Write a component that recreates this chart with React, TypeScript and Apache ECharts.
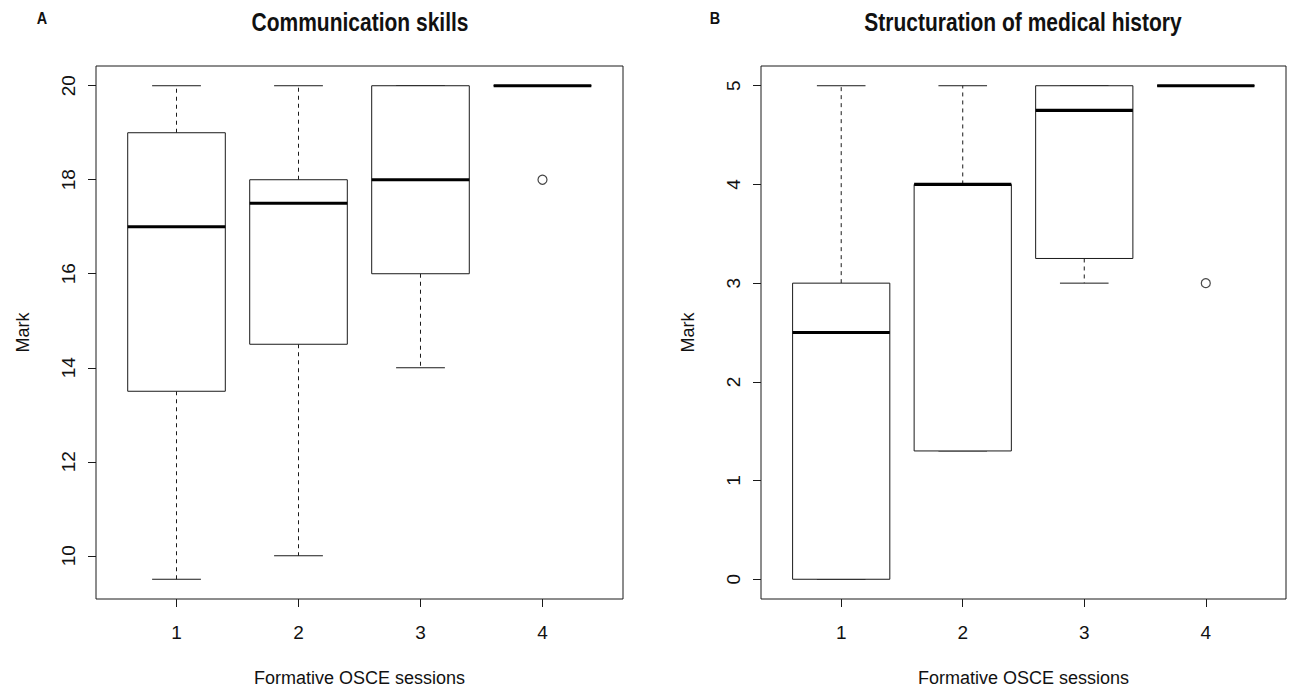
import React, { useEffect, useRef } from "react";
import * as echarts from "echarts";

const categories = [1, 2, 3, 4];
const xTicks = [1, 2, 3, 4];

// Panel A: Communication skills
const commMin = [9.5, 10, 14, 20];
const commQ1 = [13.5, 14.5, 16, 20];
const commMedian = [17, 17.5, 18, 20];
const commQ3 = [19, 18, 20, 20];
const commMax = [20, 20, 20, 20];
const commOutliers = [[4, 18]];
const commTicks = [10, 12, 14, 16, 18, 20];

// Panel B: Structuration of medical history
const histMin = [0, 1.3, 3, 5];
const histQ1 = [0, 1.3, 3.25, 5];
const histMedian = [2.5, 4, 4.75, 5];
const histQ3 = [3, 4, 5, 5];
const histMax = [5, 5, 5, 5];
const histOutliers = [[4, 3]];
const histTicks = [0, 1, 2, 3, 4, 5];

const FONT = '"Liberation Sans", Arial, Helvetica, sans-serif';
const LINE = "#1a1a1a";
const TEXT = "#111";

function buildBoxData(mins: number[], q1: number[], med: number[], q3: number[], maxs: number[]) {
  return categories.map((c, i) => [c, mins[i], q1[i], med[i], q3[i], maxs[i]]);
}

function renderBox(params: any, api: any) {
  const x = api.value(0);
  const vMin = api.value(1);
  const vQ1 = api.value(2);
  const vMed = api.value(3);
  const vQ3 = api.value(4);
  const vMax = api.value(5);
  const pMin = api.coord([x, vMin]);
  const pQ1 = api.coord([x, vQ1]);
  const pMed = api.coord([x, vMed]);
  const pQ3 = api.coord([x, vQ3]);
  const pMax = api.coord([x, vMax]);
  const cx = pMed[0];
  const halfBox = api.size([0.4, 0])[0];
  const halfCap = api.size([0.2, 0])[0];
  const children: any[] = [];
  const dashStyle = { stroke: LINE, lineWidth: 1, lineDash: [4, 4] };
  if (vMax > vQ3) {
    children.push({ type: "line", shape: { x1: cx, y1: pQ3[1], x2: cx, y2: pMax[1] }, style: dashStyle });
  }
  if (vMin < vQ1) {
    children.push({ type: "line", shape: { x1: cx, y1: pQ1[1], x2: cx, y2: pMin[1] }, style: dashStyle });
  }
  children.push({ type: "line", shape: { x1: cx - halfCap, y1: pMax[1], x2: cx + halfCap, y2: pMax[1] }, style: { stroke: LINE, lineWidth: 1 } });
  children.push({ type: "line", shape: { x1: cx - halfCap, y1: pMin[1], x2: cx + halfCap, y2: pMin[1] }, style: { stroke: LINE, lineWidth: 1 } });
  children.push({
    type: "rect",
    shape: { x: cx - halfBox, y: pQ3[1], width: halfBox * 2, height: pQ1[1] - pQ3[1] },
    style: { fill: "#fff", stroke: LINE, lineWidth: 1 },
  });
  children.push({ type: "line", shape: { x1: cx - halfBox, y1: pMed[1], x2: cx + halfBox, y2: pMed[1] }, style: { stroke: "#000", lineWidth: 3.2 } });
  return { type: "group", children };
}

function xAxisFor(gridIndex: number) {
  return {
    gridIndex,
    type: "value",
    min: 0.34,
    max: 4.66,
    axisLine: { show: false, onZero: false },
    splitLine: { show: false },
    axisTick: { show: true, customValues: xTicks, length: 8, lineStyle: { color: LINE, width: 1 } },
    axisLabel: { customValues: xTicks, fontSize: 19, color: TEXT, margin: 24, fontFamily: FONT },
    name: "Formative OSCE sessions",
    nameLocation: "middle",
    nameGap: 70,
    nameTextStyle: { fontSize: 18, color: TEXT, fontFamily: FONT },
  };
}

function yAxisFor(gridIndex: number, min: number, max: number, ticks: number[]) {
  return {
    gridIndex,
    type: "value",
    min,
    max,
    axisLine: { show: false, onZero: false },
    splitLine: { show: false },
    axisTick: { show: true, customValues: ticks, length: 8, lineStyle: { color: LINE, width: 1 } },
    axisLabel: { customValues: ticks, fontSize: 19, color: TEXT, margin: 18, rotate: 90, fontFamily: FONT },
    name: "Mark",
    nameLocation: "middle",
    nameGap: 64,
    nameTextStyle: { fontSize: 18, color: TEXT, fontFamily: FONT },
  };
}

export default function App() {
  const ref = useRef<HTMLDivElement>(null);
  useEffect(() => {
    if (!ref.current) return;
    const chart = echarts.init(ref.current, undefined, { renderer: "svg" });
    const outlierStyle = { color: "#fff", borderColor: LINE, borderWidth: 1.2 };
    const titleStyle = { fontSize: 25, fontWeight: "bold", fontFamily: FONT, fill: TEXT, textAlign: "center", textVerticalAlign: "middle" };
    const letterStyle = { fontSize: 17, fontWeight: "bold", fontFamily: FONT, fill: TEXT, textAlign: "center", textVerticalAlign: "middle" };
    chart.setOption({
      animation: false,
      backgroundColor: "#fff",
      grid: [
        { left: 96, top: 66, width: 527, height: 537, show: true, borderColor: LINE, borderWidth: 1, backgroundColor: "transparent" },
        { left: 761, top: 66, width: 525, height: 537, show: true, borderColor: LINE, borderWidth: 1, backgroundColor: "transparent" },
      ],
      xAxis: [xAxisFor(0), xAxisFor(1)],
      yAxis: [yAxisFor(0, 9.08, 20.42, commTicks), yAxisFor(1, -0.2, 5.2, histTicks)],
      graphic: [
        { type: "text", x: 42, y: 18, scaleX: 0.85, style: { ...letterStyle, text: "A" } },
        { type: "text", x: 360, y: 22, scaleX: 0.84, style: { ...titleStyle, text: "Communication skills" } },
        { type: "text", x: 715, y: 18, scaleX: 0.85, style: { ...letterStyle, text: "B" } },
        { type: "text", x: 1023, y: 22, scaleX: 0.84, style: { ...titleStyle, text: "Structuration of medical history" } },
      ],
      series: [
        {
          type: "custom",
          xAxisIndex: 0,
          yAxisIndex: 0,
          renderItem: renderBox,
          encode: { x: 0, y: [1, 2, 3, 4, 5] },
          data: buildBoxData(commMin, commQ1, commMedian, commQ3, commMax),
          silent: true,
        },
        {
          type: "scatter",
          xAxisIndex: 0,
          yAxisIndex: 0,
          symbol: "circle",
          symbolSize: 9,
          itemStyle: outlierStyle,
          data: commOutliers,
          silent: true,
        },
        {
          type: "custom",
          xAxisIndex: 1,
          yAxisIndex: 1,
          renderItem: renderBox,
          encode: { x: 0, y: [1, 2, 3, 4, 5] },
          data: buildBoxData(histMin, histQ1, histMedian, histQ3, histMax),
          silent: true,
        },
        {
          type: "scatter",
          xAxisIndex: 1,
          yAxisIndex: 1,
          symbol: "circle",
          symbolSize: 9,
          itemStyle: outlierStyle,
          data: histOutliers,
          silent: true,
        },
      ],
    });
    return () => chart.dispose();
  }, []);
  return <div ref={ref} style={{ position: "absolute", left: 0, top: 0, width: 1291, height: 692, background: "#fff" }} />;
}
